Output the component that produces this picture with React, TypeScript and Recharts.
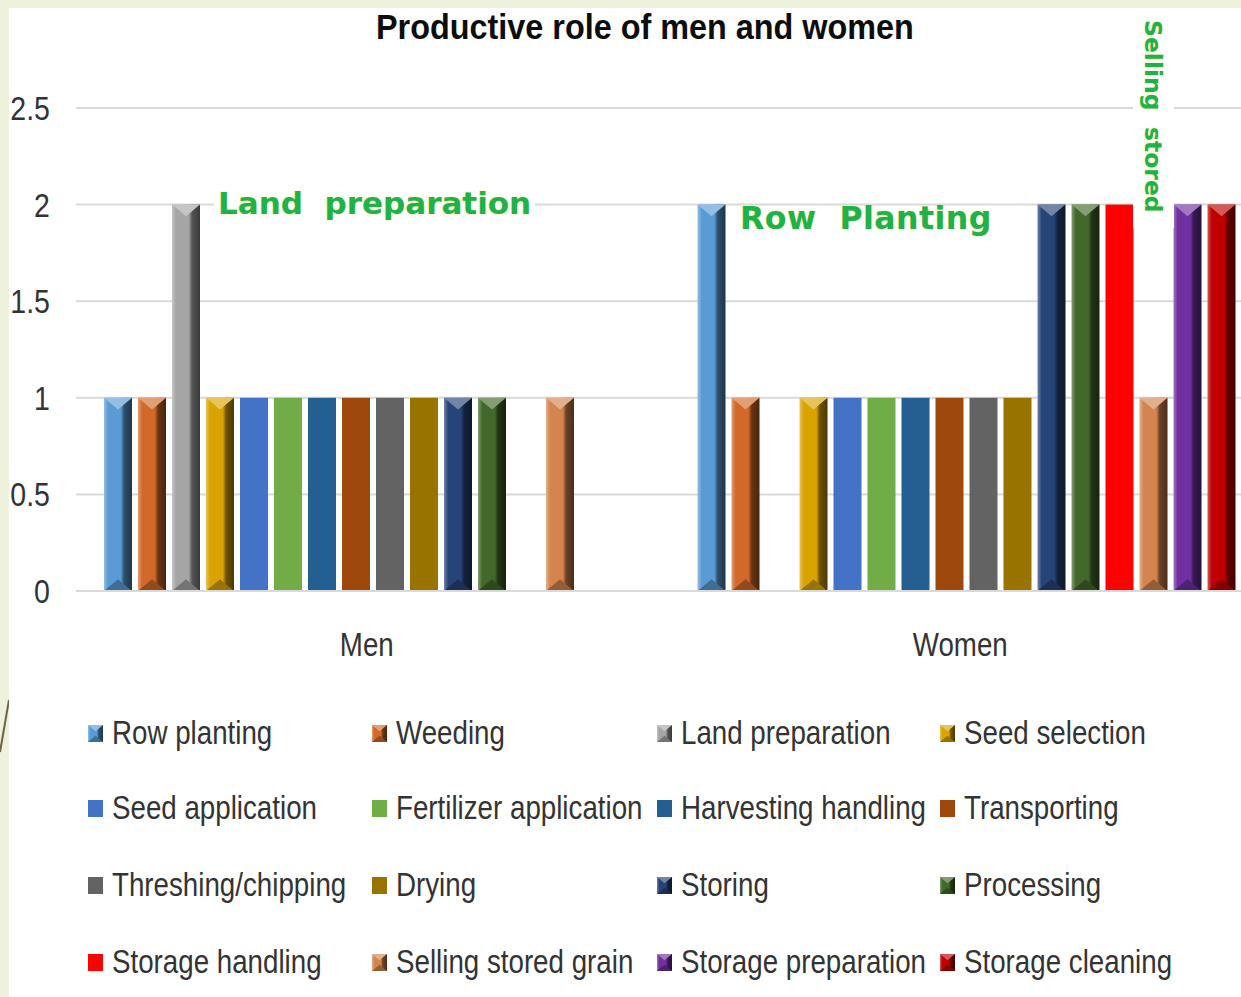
import React from 'react'
import { BarChart, Bar, XAxis, YAxis, CartesianGrid } from 'recharts'

const groups = ['Men', 'Women']
const activities = [
  'Row planting',
  'Weeding',
  'Land preparation',
  'Seed selection',
  'Seed application',
  'Fertilizer application',
  'Harvesting handling',
  'Transporting',
  'Threshing/chipping',
  'Drying',
  'Storing',
  'Processing',
  'Storage handling',
  'Selling stored grain',
  'Storage preparation',
  'Storage cleaning',
]
const menValues = [1, 1, 2, 1, 1, 1, 1, 1, 1, 1, 1, 1, 0, 1, 0, 0]
const womenValues = [2, 1, 0, 1, 1, 1, 1, 1, 1, 1, 2, 2, 2, 1, 2, 2]
const yTicks = [0, 0.5, 1, 1.5, 2, 2.5]

const colors = [
  '#5b9bd5', '#d2692a', '#a5a5a5', '#d9a400',
  '#4472c4', '#70ad47', '#255e91', '#9e480e',
  '#636363', '#997300', '#264478', '#43682b',
  '#ff0000', '#d3844f', '#7030a0', '#c00000',
]
// bars drawn with the bevelled 3D look in the original
const beveled = [true, true, true, true, false, false, false, false, false, false, true, true, false, true, true, true]

const data = groups.map((g, gi) => {
  const row: Record<string, number | string> = { name: g }
  activities.forEach((_, i) => {
    row['s' + i] = gi === 0 ? menValues[i] : womenValues[i]
  })
  return row
})

const SANS = '"Liberation Sans", Arial, sans-serif'
const WIDE = '"DejaVu Sans", Verdana, sans-serif'
const GREEN = '#1db24a'
const SQUEEZE = 0.84

function mix(hex: string, target: string, t: number) {
  const a = parseInt(hex.slice(1), 16)
  const b = parseInt(target.slice(1), 16)
  const ch = (v: number, s: number) => (v >> s) & 255
  const c = [16, 8, 0].map((s) => Math.round(ch(a, s) + (ch(b, s) - ch(a, s)) * t))
  return '#' + c.map((v) => v.toString(16).padStart(2, '0')).join('')
}

function BevelBar(props: any) {
  const { x, y, width: w, height: h, fill, bevel, idx } = props
  if (!h || h <= 0) return null
  if (!bevel) return <rect x={x} y={y} width={w} height={h} fill={fill} />
  const light = mix(fill, '#ffffff', 0.35)
  const dark = mix(fill, '#000000', 0.5)
  const gid = 'bev' + idx + (props.legend ? 'l' : '')
  const t = w * 0.42
  return (
    <g>
      <defs>
        <linearGradient id={gid} x1="0" y1="0" x2="1" y2="0">
          <stop offset="0" stopColor={light} />
          <stop offset="0.15" stopColor={fill} />
          <stop offset="0.6" stopColor={fill} />
          <stop offset="0.72" stopColor={dark} />
          <stop offset="1" stopColor={mix(fill, '#000000', 0.65)} />
        </linearGradient>
      </defs>
      <rect x={x} y={y} width={w} height={h} fill={`url(#${gid})`} />
      <polygon points={`${x},${y} ${x + w},${y} ${x + w / 2},${y + t}`} fill={light} />
      <polygon
        points={`${x},${y + h} ${x + w},${y + h} ${x + w / 2},${y + h - t}`}
        fill={mix(fill, '#000000', 0.3)}
      />
    </g>
  )
}

function Swatch({ i }: { i: number }) {
  return (
    <svg width={15} height={17} style={{ display: 'block' }}>
      <BevelBar x={0} y={0} width={15} height={17} fill={colors[i]} bevel={beveled[i]} idx={i} legend />
    </svg>
  )
}

function XTick({ x, y, payload }: any) {
  return (
    <g transform={`translate(${x - 6},${y}) scale(${SQUEEZE},1)`}>
      <text x={0} y={0} dy="0.71em" textAnchor="middle" fontFamily={SANS} fontSize={33} fill="#333333">
        {payload.value}
      </text>
    </g>
  )
}

function YTick({ x, y, payload }: any) {
  return (
    <g transform={`translate(${x},${y}) scale(${SQUEEZE},1)`}>
      <text x={0} y={0} dy="0.355em" textAnchor="end" fontFamily={SANS} fontSize={34} fill="#333333">
        {payload.value}
      </text>
    </g>
  )
}

const legendCols = [88, 372, 657, 940]
const legendRows = [733, 808, 885, 962]

const green = {
  fontFamily: WIDE,
  fontWeight: 'bold' as const,
  color: GREEN,
  whiteSpace: 'pre' as const,
  textShadow: '0 0 2px #f2e27a',
}

export default function App() {
  return (
    <div
      style={{
        position: 'absolute',
        left: 0,
        top: 0,
        width: 1241,
        height: 997,
        overflow: 'hidden',
        background: '#eef1dc',
      }}
    >
      <svg width={9} height={997} style={{ position: 'absolute', left: 0, top: 0 }}>
        <line x1={9} y1={700} x2={0} y2={752} stroke="#6b6442" strokeWidth={2} />
      </svg>
      <div style={{ position: 'absolute', left: 9, top: 8, width: 1240, height: 989, background: '#ffffff' }} />

      <div
        style={{
          position: 'absolute',
          left: 376,
          top: 5,
          fontFamily: SANS,
          fontWeight: 'bold',
          fontSize: 35,
          color: '#0d0d0d',
          lineHeight: '44px',
          whiteSpace: 'nowrap',
          transform: 'scaleX(0.925)',
          transformOrigin: '0 0',
        }}
      >
        Productive role of men and women
      </div>

      <div style={{ position: 'absolute', left: 0, top: 0 }}>
        <BarChart
          width={1270}
          height={700}
          data={data}
          margin={{ top: 108, right: 7, bottom: 0, left: 0 }}
          barSize={28}
          barGap={6}
        >
          <CartesianGrid vertical={false} stroke="#d9d9d9" strokeWidth={2} />
          <XAxis
            dataKey="name"
            height={109}
            tickLine={false}
            tickSize={0}
            tickMargin={42}
            axisLine={{ stroke: '#d9d9d9', strokeWidth: 2 }}
            tick={<XTick />}
          />
          <YAxis
            width={76}
            domain={[0, 2.5]}
            ticks={yTicks}
            tickLine={false}
            axisLine={false}
            tickSize={0}
            tickMargin={26}
            tick={<YTick />}
          />
          {activities.map((a, i) => (
            <Bar
              key={a}
              dataKey={'s' + i}
              name={a}
              fill={colors[i]}
              isAnimationActive={false}
              shape={(p: any) => <BevelBar {...p} fill={colors[i]} bevel={beveled[i]} idx={i} />}
            />
          ))}
        </BarChart>
      </div>

      <div
        style={{
          ...green,
          position: 'absolute',
          left: 214,
          top: 183,
          padding: '0 4px',
          background: '#ffffff',
          fontSize: 31,
          lineHeight: '40px',
        }}
      >
        {'Land  preparation'}
      </div>
      <div style={{ ...green, position: 'absolute', left: 740, top: 198, fontSize: 31.5, lineHeight: '40px', letterSpacing: 0.5 }}>
        {'Row  Planting'}
      </div>
      <div
        style={{
          position: 'absolute',
          left: 1133,
          top: 8,
          width: 41,
          height: 220,
          background: '#ffffff',
        }}
      >
        <div
          style={{
            ...green,
            position: 'absolute',
            left: 34,
            top: 12,
            transform: 'rotate(90deg)',
            transformOrigin: '0 0',
            fontSize: 23.5,
            lineHeight: '28px',
          }}
        >
          {'Selling  stored'}
        </div>
      </div>

      {activities.map((a, i) => (
        <div
          key={a}
          style={{
            position: 'absolute',
            left: legendCols[i % 4],
            top: legendRows[Math.floor(i / 4)] - 22,
            height: 44,
            display: 'flex',
            alignItems: 'center',
            fontFamily: SANS,
            fontSize: 33,
            color: '#333333',
            whiteSpace: 'nowrap',
          }}
        >
          <Swatch i={i} />
          <span
            style={{
              marginLeft: 9,
              display: 'inline-block',
              transform: `scaleX(${SQUEEZE})`,
              transformOrigin: '0 50%',
            }}
          >
            {a}
          </span>
        </div>
      ))}
    </div>
  )
}
